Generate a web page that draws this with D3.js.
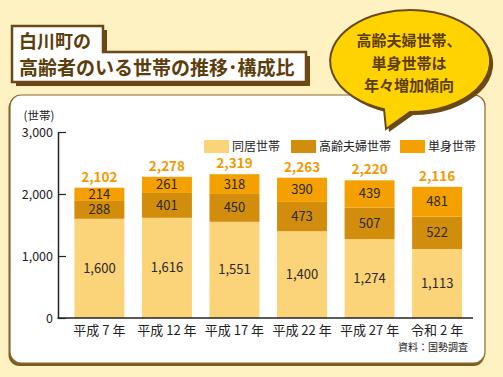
<!DOCTYPE html>
<html>
<head>
<meta charset="utf-8">
<script src="https://cdn.jsdelivr.net/npm/d3@7"></script>
<style>
  body { margin: 0; background: #fff2c2; }
  svg { display: block; font-family: "Noto Sans CJK JP", "Noto Sans", sans-serif; }
</style>
</head>
<body>
<svg id="chart" width="503" height="377"></svg>
<script>
const years = ['平成 7 年', '平成 12 年', '平成 17 年', '平成 22 年', '平成 27 年', '令和 2 年'];
const seriesNames = ['同居世帯', '高齢夫婦世帯', '単身世帯'];
const doukyo = [1600, 1616, 1551, 1400, 1274, 1113];
const fufu = [288, 401, 450, 473, 507, 522];
const tanshin = [214, 261, 318, 390, 439, 481];
const yTicks = [0, 1000, 2000, 3000];
const titleLines = ['白川町の', '高齢者のいる世帯の推移･構成比'];
const bubbleLines = ['高齢夫婦世帯、', '単身世帯は', '年々増加傾向'];
const sourceText = '資料：国勢調査';

const colors = ['#fbd378', '#d38d0c', '#f4a000'];
const brown = '#6b4916';

const svg = d3.select('#chart');

// panel
svg.append('rect')
  .attr('x', 8.5).attr('y', 97).attr('width', 476).attr('height', 269)
  .attr('rx', 11).attr('fill', '#7d5c22');
svg.append('rect')
  .attr('x', 10).attr('y', 95).attr('width', 475).attr('height', 268)
  .attr('rx', 11).attr('fill', '#fff').attr('stroke', '#8a6a2e').attr('stroke-width', 1.2);

// title box
const titlePts = [[12, 26], [103, 26], [103, 52], [306, 52], [306, 82], [12, 82]];
svg.append('polygon')
  .attr('points', titlePts.map(p => [p[0] + 4, p[1] + 4].join(',')).join(' '))
  .attr('fill', brown);
svg.append('polygon')
  .attr('points', titlePts.map(p => p.join(',')).join(' '))
  .attr('fill', '#fff').attr('stroke', brown).attr('stroke-width', 2.5);
svg.append('text').attr('x', 19).attr('y', 48).text(titleLines[0])
  .attr('font-size', 18).attr('font-weight', 700).attr('fill', '#5c3d0c');
svg.append('text').attr('x', 19).attr('y', 75).text(titleLines[1])
  .attr('font-size', 19).attr('font-weight', 700).attr('fill', '#5c3d0c');

// bubble
const bubblePath = 'M 384,109.2 A 80 51 0 1 1 410,112 L 386,129 Z';
svg.append('path').attr('d', bubblePath).attr('transform', 'translate(3,3)').attr('fill', brown);
svg.append('path').attr('d', bubblePath).attr('fill', '#ffd300')
  .attr('stroke', brown).attr('stroke-width', 2);
svg.append('g').selectAll('text').data(bubbleLines).join('text')
  .attr('x', 409).attr('y', (d, i) => 46 + i * 22.5)
  .attr('text-anchor', 'middle').attr('font-size', 15).attr('font-weight', 700)
  .attr('fill', '#5c3d0c').text(d => d);

// chart
const x = d3.scaleBand().domain(years).range([57.5, 479]).paddingInner(0.26).paddingOuter(0.25);
const y = d3.scaleLinear().domain([0, 3000]).range([318, 132]);

const rows = years.map((yr, i) => ({ year: yr, '同居世帯': doukyo[i], '高齢夫婦世帯': fufu[i], '単身世帯': tanshin[i] }));
const stacked = d3.stack().keys(seriesNames)(rows);

const layers = svg.append('g').selectAll('g').data(stacked).join('g')
  .attr('fill', (d, i) => colors[i]);
layers.selectAll('rect').data(d => d).join('rect')
  .attr('x', d => x(d.data.year))
  .attr('width', x.bandwidth())
  .attr('y', d => y(d[1]))
  .attr('height', d => y(d[0]) - y(d[1]));

const labelGroups = svg.append('g').selectAll('g').data(stacked).join('g');
labelGroups.selectAll('text').data(d => d.map(v => ({ v, key: d.key }))).join('text')
  .attr('x', d => x(d.v.data.year) + x.bandwidth() / 2)
  .attr('y', d => (y(d.v[0]) + y(d.v[1])) / 2 + 4.5)
  .attr('text-anchor', 'middle').attr('font-size', 13).attr('fill', '#2a2a2a')
  .text(d => d3.format(',')(d.v.data[d.key]));

// totals
svg.append('g').selectAll('text').data(rows).join('text')
  .attr('x', d => x(d.year) + x.bandwidth() / 2)
  .attr('y', d => y(d['同居世帯'] + d['高齢夫婦世帯'] + d['単身世帯']) - 6)
  .attr('text-anchor', 'middle').attr('font-size', 13.5).attr('font-weight', 700)
  .attr('fill', '#f39800')
  .text(d => d3.format(',')(d['同居世帯'] + d['高齢夫婦世帯'] + d['単身世帯']));

// y axis
const yAxis = svg.append('g').attr('transform', 'translate(58,0)')
  .call(d3.axisLeft(y).tickValues(yTicks).tickFormat(d3.format(',')).tickSizeInner(-8).tickSizeOuter(0).tickPadding(5));
yAxis.select('.domain').attr('stroke', '#222').attr('stroke-width', 1.5);
yAxis.selectAll('.tick line').attr('stroke', '#222').attr('stroke-width', 1.2);
yAxis.selectAll('.tick text').attr('font-size', 12.5).attr('fill', '#222')
  .attr('font-family', '"Noto Sans CJK JP", sans-serif');

svg.append('text').attr('x', 39).attr('y', 120).attr('text-anchor', 'middle')
  .attr('font-size', 11.5).attr('fill', '#222').text('(世帯)');

// x axis
const xAxis = svg.append('g').attr('transform', 'translate(0,318)')
  .call(d3.axisBottom(x).tickSize(0).tickPadding(8));
xAxis.select('.domain').attr('d', 'M57.5,0H473').attr('stroke', '#222').attr('stroke-width', 1.5);
xAxis.selectAll('.tick text').attr('font-size', 13).attr('fill', '#222')
  .attr('font-family', '"Noto Sans CJK JP", sans-serif');

// legend
const legendX = [204, 291, 400];
const legend = svg.append('g').selectAll('g').data(seriesNames).join('g')
  .attr('transform', (d, i) => `translate(${legendX[i]},140)`);
legend.append('rect').attr('width', 25).attr('height', 13).attr('fill', (d, i) => colors[i]);
legend.append('text').attr('x', 28).attr('y', 11).attr('font-size', 12)
  .attr('fill', '#222').text(d => d);

// source
svg.append('text').attr('x', 468).attr('y', 351).attr('text-anchor', 'end')
  .attr('font-size', 10).attr('fill', '#222').text(sourceText);
</script>
</body>
</html>
